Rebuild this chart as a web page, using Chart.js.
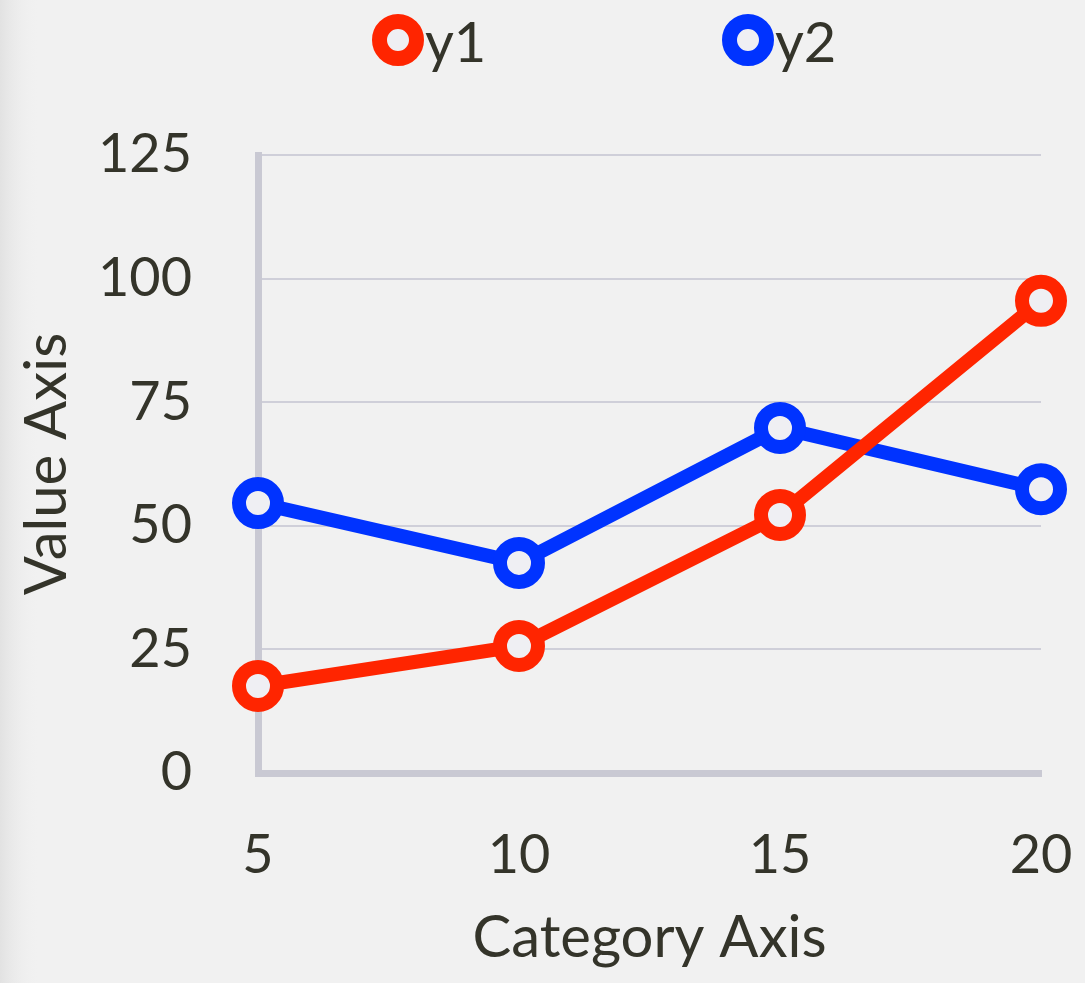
<!DOCTYPE html>
<html>
<head>
<meta charset="utf-8">
<script src="https://cdn.jsdelivr.net/npm/chart.js@4.4.1/dist/chart.umd.min.js"></script>
<style>
  html, body { margin: 0; padding: 0; background: #f1f1f1; }
  #wrap { width: 1085px; height: 983px; }
</style>
</head>
<body>
<div id="wrap"><canvas id="chart"></canvas></div>
<script>
// Chart data
const categories = ['5', '10', '15', '20'];
const y1Values = [17.6, 25.7, 52.2, 95.5];
const y2Values = [54.6, 42.5, 69.8, 57.4];
const seriesNames = ['y1', 'y2'];
const seriesColors = ['#ff2500', '#0033ff'];

const textColor = '#34342a';
const fontFamily = "Lato, 'Open Sans', sans-serif";
const markerFill = '#efeff3';

// Paper-like background with a slightly darker left edge
const backgroundPlugin = {
  id: 'paperBackground',
  beforeDraw(chart) {
    const ctx = chart.ctx;
    ctx.save();
    ctx.fillStyle = '#f1f1f1';
    ctx.fillRect(0, 0, chart.width, chart.height);
    const g = ctx.createLinearGradient(0, 0, 40, 0);
    g.addColorStop(0, '#e2e2e2');
    g.addColorStop(1, 'rgba(241,241,241,0)');
    ctx.fillStyle = g;
    ctx.fillRect(0, 0, 40, chart.height);
    ctx.restore();
  }
};

// Legend drawn at the top, one ring marker + label per dataset
const ringLegendPlugin = {
  id: 'ringLegend',
  afterDraw(chart) {
    const ctx = chart.ctx;
    const startX = 398;
    const step = 350;
    const cy = 40;
    ctx.save();
    chart.data.datasets.forEach((ds, i) => {
      const cx = startX + i * step;
      ctx.beginPath();
      ctx.arc(cx, cy, 18.5, 0, Math.PI * 2);
      ctx.fillStyle = markerFill;
      ctx.fill();
      ctx.lineWidth = 15;
      ctx.strokeStyle = ds.borderColor;
      ctx.stroke();
      ctx.fillStyle = textColor;
      ctx.font = '56px ' + fontFamily;
      ctx.textBaseline = 'middle';
      ctx.textAlign = 'left';
      ctx.fillText(ds.label, cx + 27, cy + 4);
    });
    ctx.restore();
  }
};

function lineDataset(label, data, color) {
  return {
    label: label,
    data: data,
    borderColor: color,
    backgroundColor: markerFill,
    borderWidth: 14,
    pointRadius: 19,
    pointHoverRadius: 19,
    pointBorderWidth: 14,
    pointBackgroundColor: markerFill,
    pointBorderColor: color,
    tension: 0,
    clip: false,
  };
}

new Chart(document.getElementById('chart'), {
  type: 'line',
  data: {
    labels: categories,
    datasets: [
      lineDataset(seriesNames[0], y1Values, seriesColors[0]),
      lineDataset(seriesNames[1], y2Values, seriesColors[1]),
    ],
  },
  options: {
    responsive: true,
    maintainAspectRatio: false,
    animation: false,
    layout: {
      padding: { top: 155, right: 44, bottom: 10, left: 12 },
    },
    plugins: {
      legend: { display: false },
      tooltip: { enabled: false },
    },
    scales: {
      x: {
        offset: false,
        grid: { display: false, drawTicks: false },
        border: { display: true, color: '#c9c9d3', width: 7 },
        ticks: {
          color: textColor,
          padding: 50,
          font: { family: fontFamily, size: 54 },
          maxRotation: 0,
        },
        title: {
          display: true,
          text: 'Category Axis',
          color: textColor,
          font: { family: fontFamily, size: 58 },
          padding: { top: 0, bottom: 0 },
        },
        afterFit(scale) {
          scale.height = 200;
          scale.paddingLeft = 0;
          scale.paddingRight = 0;
        },
      },
      y: {
        min: 0,
        max: 125,
        grid: { color: '#cfcfd9', lineWidth: 2, drawTicks: false },
        border: { display: true, color: '#c9c9d3', width: 7 },
        ticks: {
          stepSize: 25,
          color: textColor,
          padding: 66,
          font: { family: fontFamily, size: 54 },
        },
        title: {
          display: true,
          text: 'Value Axis',
          color: textColor,
          font: { family: fontFamily, size: 58 },
          padding: { top: 0, bottom: 0 },
        },
        afterFit(scale) {
          scale.width = 246;
          scale.paddingTop = 0;
          scale.paddingBottom = 0;
        },
      },
    },
  },
  plugins: [backgroundPlugin, ringLegendPlugin],
});
</script>
</body>
</html>
